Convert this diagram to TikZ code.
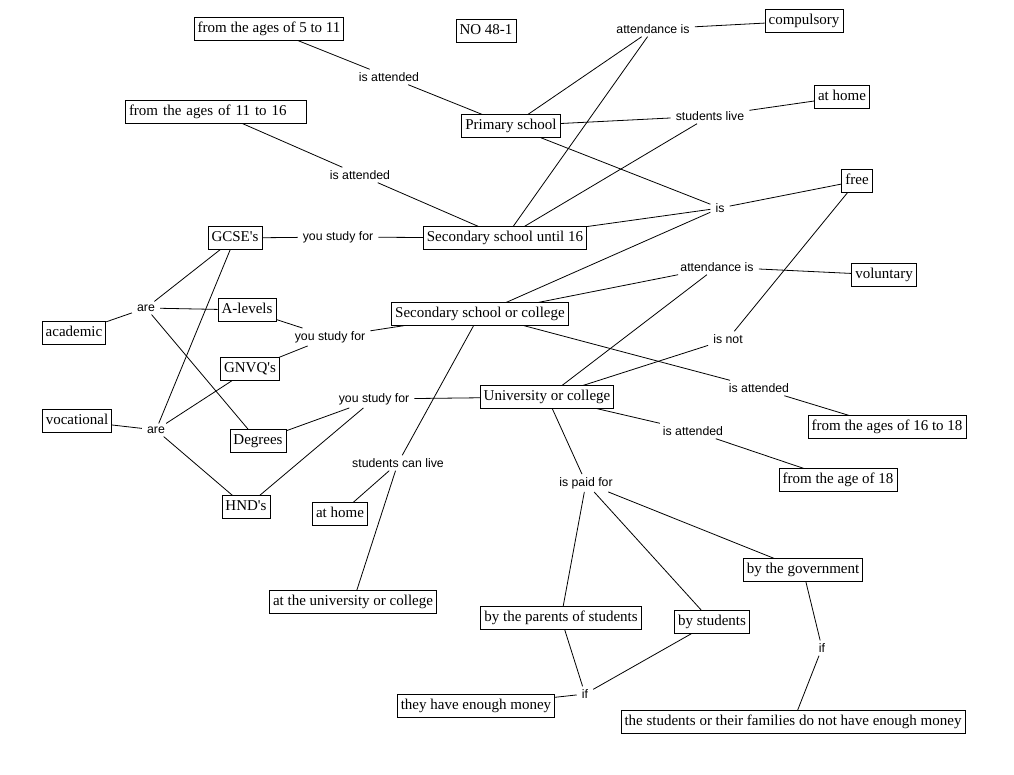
\documentclass[tikz,border=0pt]{standalone}
\usepackage{fontspec}
\setmainfont{Liberation Serif}
\setsansfont{Liberation Sans}
\usetikzlibrary{positioning}

\begin{document}
\begin{tikzpicture}[
    x=1pt, y=-1pt,
    concept/.style={draw, line width=0.8pt, font=\fontsize{15}{17}\selectfont,
      inner xsep=3.5pt, inner ysep=4pt, text height=11pt, text depth=3.5pt},
    phrase/.style={font=\sffamily\fontsize{12.3}{14}\selectfont, inner xsep=5pt, inner ysep=3pt},
    link/.style={line width=0.8pt}
]
\useasboundingbox (0,0) rectangle (1014,775);

% Concepts
\node[concept] (ages511) at (269,29) {from the ages of 5 to 11};
\node[concept] (mapid) at (486,31) {NO 48-1};
\node[concept] (compulsory) at (804,21) {compulsory};
\node[concept] (primary) at (511,126) {Primary school};
\node[concept] (homeA) at (842,97) {at home};
\node[concept, text width=174pt, align=left] (ages1116) at (216,112) {from the ages of 11 to 16};
\node[concept] (free) at (857,181) {free};
\node[concept] (gcse) at (235,238) {GCSE\textquotesingle s};
\node[concept] (sec16) at (505,238) {Secondary school until 16};
\node[concept] (voluntary) at (884,275) {voluntary};
\node[concept] (seccol) at (480,314) {Secondary school or college};
\node[concept] (alevels) at (247,310) {A-levels};
\node[concept] (academic) at (74,333) {academic};
\node[concept] (gnvq) at (250,369) {GNVQ\textquotesingle s};
\node[concept] (univ) at (547,397) {University or college};
\node[concept] (vocational) at (77,421) {vocational};
\node[concept] (degrees) at (258,441) {Degrees};
\node[concept] (ages1618) at (887,427) {from the ages of 16 to 18};
\node[concept] (age18) at (838,480) {from the age of 18};
\node[concept] (hnd) at (246,507) {HND\textquotesingle s};
\node[concept] (homeB) at (340,514) {at home};
\node[concept] (atuni) at (353,602) {at the university or college};
\node[concept] (parents) at (561,618) {by the parents of students};
\node[concept] (bystudents) at (712,622) {by students};
\node[concept] (gov) at (803,570) {by the government};
\node[concept] (enough) at (476,706) {they have enough money};
\node[concept] (notenough) at (793,722) {the students or their families do not have enough money};

% Linking phrases
\node[phrase] (attA) at (389,77) {is attended};
\node[phrase] (attB) at (360,175) {is attended};
\node[phrase] (compA) at (653,29) {attendance is};
\node[phrase] (live) at (710,116) {students live};
\node[phrase] (is) at (720,208) {is};
\node[phrase] (studyA) at (338,237) {you study for};
\node[phrase] (compB) at (717,267) {attendance is};
\node[phrase] (areA) at (146,308) {are};
\node[phrase] (studyB) at (330,337) {you study for};
\node[phrase] (isnot) at (728,339) {is not};
\node[phrase] (studyC) at (374,399) {you study for};
\node[phrase] (attC) at (759,388) {is attended};
\node[phrase] (areB) at (156,430) {are};
\node[phrase] (attD) at (693,431) {is attended};
\node[phrase] (canlive) at (398,463) {students can live};
\node[phrase] (paid) at (586,483) {is paid for};
\node[phrase] (ifA) at (585,694) {if};
\node[phrase] (ifB) at (822,648) {if};

% Links
\foreach \a/\b in {ages511/attA, attA/primary,
    ages1116/attB, attB/sec16,
    primary/compA, sec16/compA, compA/compulsory,
    primary/live, sec16/live, live/homeA,
    primary/is, sec16/is, seccol/is, is/free,
    gcse/studyA, studyA/sec16,
    seccol/compB, univ/compB, compB/voluntary,
    univ/isnot, isnot/free,
    seccol/attC, attC/ages1618,
    univ/attD, attD/age18,
    alevels/studyB, gnvq/studyB, studyB/seccol,
    degrees/studyC, hnd/studyC, studyC/univ,
    gcse/areA, areA/alevels, areA/degrees, areA/academic,
    gcse/areB, gnvq/areB, areB/hnd, areB/vocational,
    seccol/canlive, canlive/homeB, canlive/atuni,
    univ/paid, paid/parents, paid/bystudents, paid/gov,
    parents/ifA, bystudents/ifA, ifA/enough,
    gov/ifB, ifB/notenough}
  \draw[link] (\a) -- (\b);

\end{tikzpicture}
\end{document}
